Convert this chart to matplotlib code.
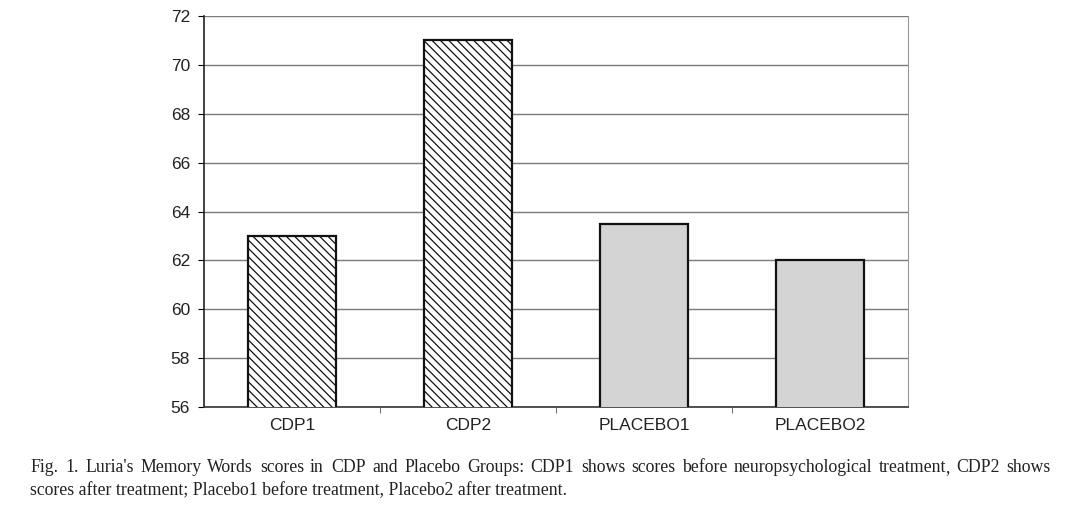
import matplotlib.pyplot as plt
import numpy as np

# data
groups = ['CDP1', 'CDP2', 'PLACEBO1', 'PLACEBO2']
scores = [63.0, 71.0, 63.5, 62.0]
hatches = ['\\\\\\\\', '\\\\\\\\', '', '']
fills = ['white', 'white', '#d4d4d4', '#d4d4d4']

caption_1 = ("Fig. 1.  Luria's Memory Words scores in CDP and Placebo Groups:  CDP1 shows scores "
             "before neuropsychological treatment, CDP2 shows")
caption_2 = "scores after treatment; Placebo1 before treatment, Placebo2 after treatment."

plt.rcParams['hatch.color'] = '#737373'
plt.rcParams['hatch.linewidth'] = 0.9

fig = plt.figure(figsize=(10.81, 5.08), dpi=100)
ax = fig.add_axes([204 / 1081, 1 - 407 / 508, (908 - 204) / 1081, (407 - 16) / 508])

x = np.arange(len(groups))
ax.bar(x, scores, width=0.5, color=fills, hatch=hatches, edgecolor='#111111',
       linewidth=1.6, zorder=3)

ax.set_xlim(-0.5, 3.5)
ax.set_ylim(56, 72)
ax.set_yticks(np.arange(56, 73, 2))
ax.set_xticks(x)
ax.set_xticklabels(groups)
ax.set_xticks(x[:-1] + 0.5, minor=True)
ax.tick_params(axis='x', which='major', length=0, pad=8, labelsize=12.5)
ax.tick_params(axis='x', which='minor', length=4, color='#555555')
ax.tick_params(axis='y', length=4, labelsize=12.5, pad=6)
for lab in ax.get_xticklabels() + ax.get_yticklabels():
    lab.set_family('Liberation Sans')
    lab.set_color('#222222')

ax.grid(axis='y', color='#7a7a7a', linewidth=1.0, zorder=0)
ax.spines['top'].set_visible(False)
ax.spines['right'].set_color('#999999')
ax.spines['left'].set_color('#222222')
ax.spines['bottom'].set_color('#333333')
ax.spines['left'].set_linewidth(1.2)
ax.spines['bottom'].set_linewidth(1.2)

cap_kw = dict(fontsize=12.8, family='Liberation Serif', va='baseline', color='#222222')


# justified first caption line: one text per word, spread across the width
# (a trailing comma gets its own text, otherwise agg drops the word a pixel)
def justified(text, x0, x1, y):
    words = [w for w in text.split(' ') if w]
    r = fig.canvas.get_renderer()
    objs = []
    total = 0
    for w in words:
        parts = [w[:-1], w[-1]] if w.endswith(',') else [w]
        group = []
        for p in parts:
            t = fig.text(0, y, p, **cap_kw)
            wd = t.get_window_extent(renderer=r).width
            group.append((t, wd))
            total += wd
        objs.append(group)
    gap = (x1 - x0 - total) / (len(words) - 1)
    pos = x0
    for group in objs:
        for k, (t, wd) in enumerate(group):
            if k > 0:
                pos -= 2
            t.set_x(round(pos) / 1081)
            pos += wd
        pos += gap


justified(caption_1, 30, 1052, 1 - 472 / 508)
fig.text(30 / 1081, 1 - 495 / 508, caption_2, **cap_kw)

fig.savefig('out.png', dpi=100)
